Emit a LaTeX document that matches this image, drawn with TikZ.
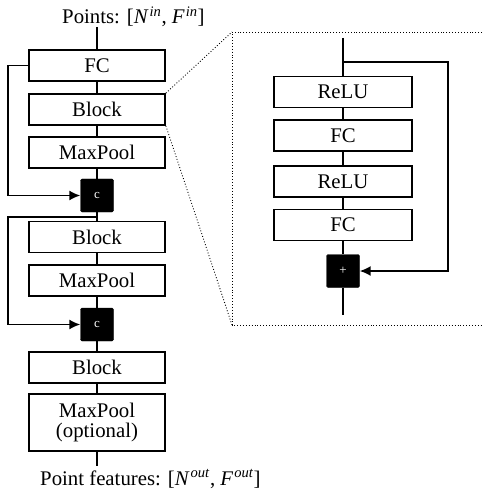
\documentclass[tikz,border=0pt]{standalone}
\usepackage{fontspec}
\setmainfont{Liberation Serif}
\usetikzlibrary{arrows.meta}
\begin{document}
\begin{tikzpicture}[x=1pt,y=-1pt,
  font=\fontsize{20.8}{23.5}\selectfont,
  box/.style={draw,line width=1.8pt,minimum width=136pt,minimum height=31pt,inner sep=0pt,align=center},
  ibox/.style={box,minimum width=138pt,line width=1.7pt},
  opbox/.style={fill=black,draw=black,rounded corners=1.5pt,minimum width=33pt,minimum height=33pt,inner sep=0pt,text=white,font=\fontsize{13}{14}\selectfont},
  conn/.style={line width=1.7pt},
  arr/.style={conn,-{Latex[length=11pt,width=10pt]}},
  dots/.style={line width=0.9pt,dotted}]
\useasboundingbox (0,0) rectangle (482,494);
% left column
\node[anchor=west,inner sep=0pt] (tin) at (62,17) {Points: [\textit{N}\textsuperscript{\kern1pt\textit{in}}, \textit{F}\textsuperscript{\kern1pt\textit{in}}]};
\coordinate (tinb) at (97,27);
\node[box] (fc) at (97,65.5) {FC};
\node[box] (blk1) at (97,109.5) {Block};
\node[box] (mp1) at (97,152.5) {MaxPool};
\node[opbox] (c1) at (97,195.5) {c};
\node[box] (blk2) at (97,237) {Block};
\node[box] (mp2) at (97,280.5) {MaxPool};
\node[opbox] (c2) at (97,324.5) {c};
\node[box] (blk3) at (97,367.5) {Block};
\node[box,minimum height=57pt] (mp3) at (97,422.5) {MaxPool\\[-3pt](optional)};
\coordinate (outt) at (97,466);
\node[anchor=west,inner sep=0pt] (tout) at (40,479) {Point features: [\textit{N}\textsuperscript{\kern1pt\textit{out}}, \textit{F}\textsuperscript{\kern1pt\textit{out}}]};
\draw[conn] (tinb) -- (fc.north);
\draw[conn] (fc) -- (blk1);
\draw[conn] (blk1) -- (mp1);
\draw[conn] (mp1) -- (c1);
\draw[conn] (c1) -- (blk2);
\draw[conn] (blk2) -- (mp2);
\draw[conn] (mp2) -- (c2);
\draw[conn] (c2) -- (blk3);
\draw[conn] (blk3) -- (mp3);
\draw[conn] (mp3) -- (outt);
\coordinate (l1) at (8,65.5);
\coordinate (l1b) at (8,195.5);
\draw[arr] (fc.west) -- (l1) -- (l1b) -- (c1.west);
\coordinate (s2) at (97,217);
\coordinate (l2) at (8,217);
\coordinate (l2b) at (8,324.5);
\draw[arr] (s2) -- (l2) -- (l2b) -- (c2.west);
% zoom panel
\coordinate (ptl) at (232,32);
\coordinate (pbl) at (232,325);
\coordinate (ptr) at (482,32);
\coordinate (pbr) at (482,325);
\draw[dots] (ptr) -- (ptl) -- (pbl) -- (pbr);
\draw[dots] (blk1.north east) -- (ptl);
\draw[dots] (blk1.south east) -- (pbl);
% inner block
\coordinate (itop) at (343,38);
\coordinate (ibr) at (343,62);
\node[ibox] (r1) at (343,92) {ReLU};
\node[ibox] (f1) at (343,135.5) {FC};
\node[ibox] (r2) at (343,181.5) {ReLU};
\node[ibox] (f2) at (343,225) {FC};
\node[opbox] (plus) at (343,271) {+};
\coordinate (ibot) at (343,315);
\draw[conn] (itop) -- (r1.north);
\draw[conn] (r1) -- (f1);
\draw[conn] (f1) -- (r2);
\draw[conn] (r2) -- (f2);
\draw[conn] (f2) -- (plus);
\draw[conn] (plus) -- (ibot);
\coordinate (ir) at (448,62);
\coordinate (irb) at (448,271);
\draw[arr] (ibr) -- (ir) -- (irb) -- (plus.east);
\end{tikzpicture}
\end{document}
